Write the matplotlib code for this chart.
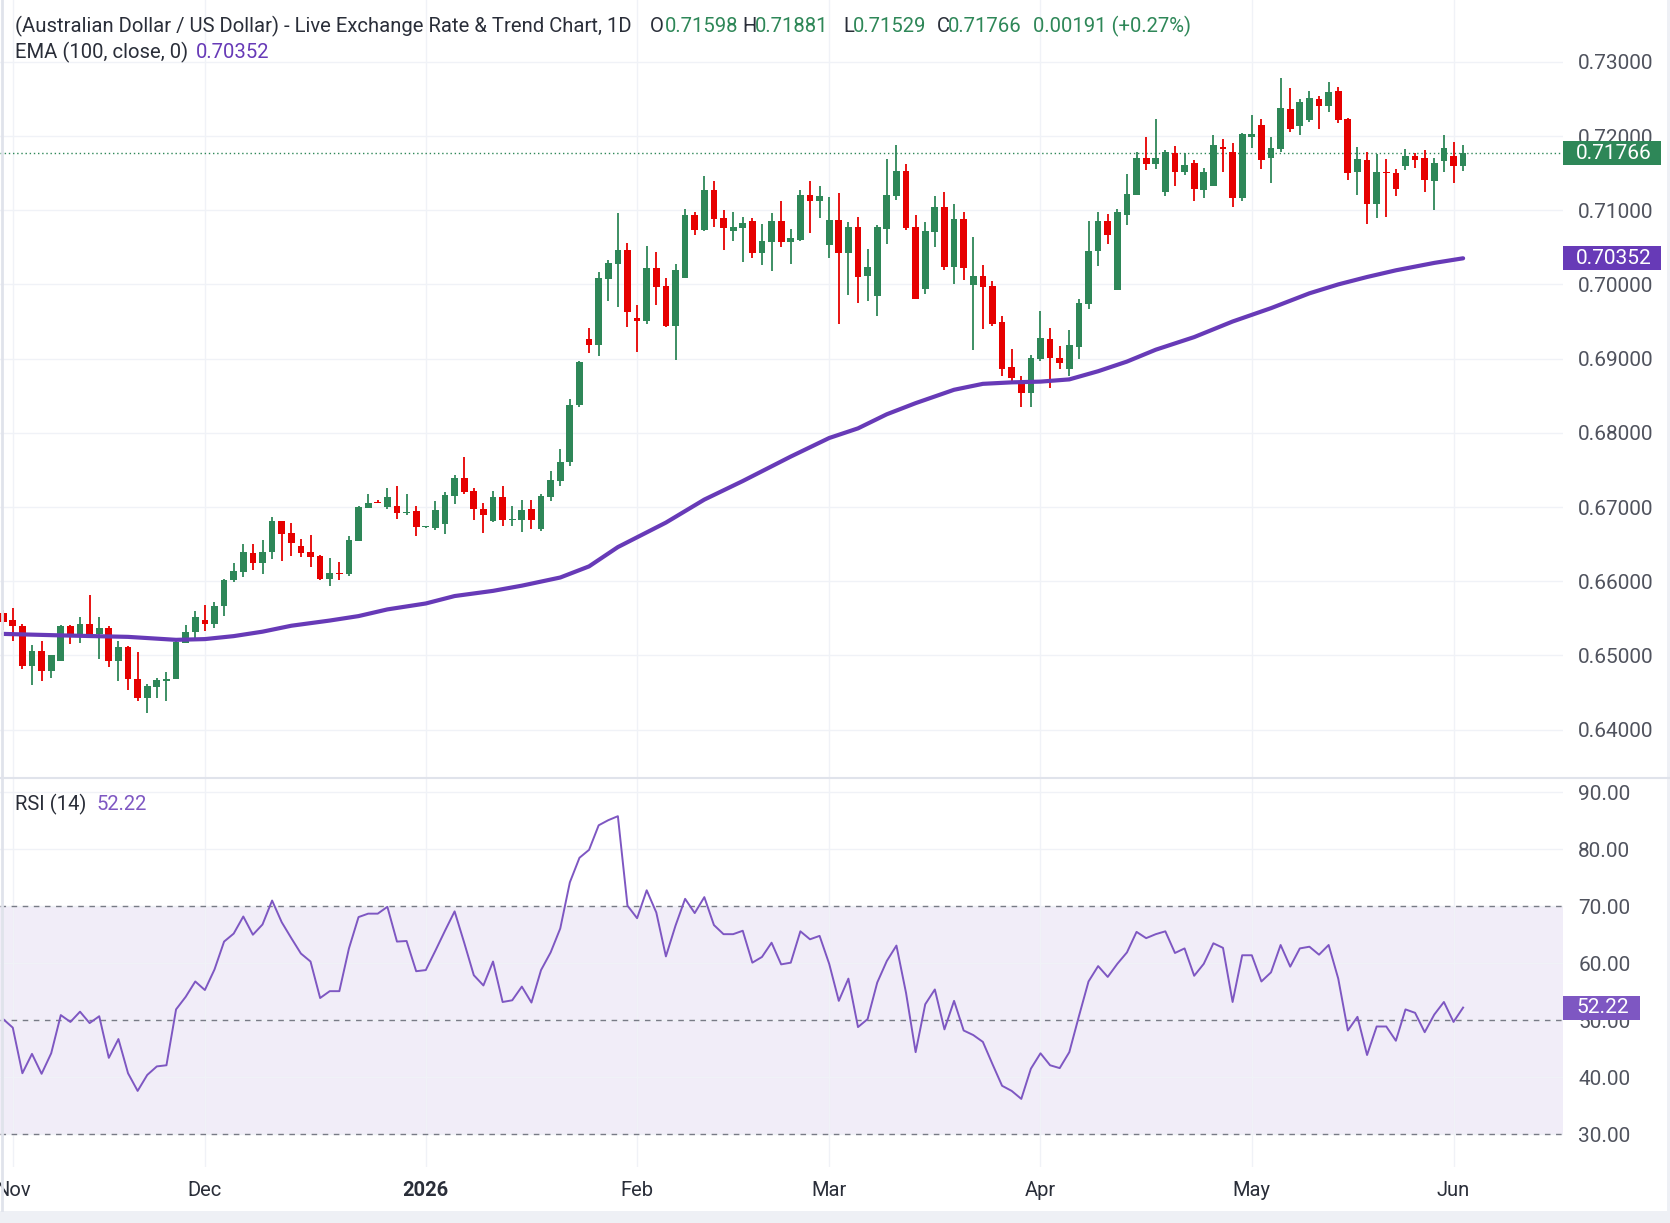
import numpy as np
import pandas as pd
import matplotlib
matplotlib.use('Agg')
import matplotlib.pyplot as plt
from matplotlib.patches import Rectangle

plt.rcParams['font.family'] = ['Roboto', 'DejaVu Sans']

# daily bars, 31 Oct 2025 .. 2 Jun 2026 (weekdays)
dates = pd.bdate_range('2025-10-31', '2026-06-02')

opens = [
    0.65577, 0.65482, 0.6540, 0.6486, 0.6506, 0.6479, 0.6492, 0.6539, 0.6529, 0.6543,
    0.6529, 0.6537, 0.6492, 0.6512, 0.6468, 0.6443, 0.6458, 0.6465, 0.6468, 0.6517,
    0.6531, 0.6548, 0.6543, 0.6566, 0.6602, 0.6613, 0.6638, 0.6625, 0.6640, 0.6681,
    0.6665, 0.6647, 0.6639, 0.6634, 0.6603, 0.6611, 0.6610, 0.6654, 0.6699, 0.6706,
    0.6700, 0.6701, 0.6692, 0.6694, 0.6673, 0.6672, 0.6677, 0.6715, 0.6739, 0.6721,
    0.6698, 0.6681, 0.6714, 0.6682, 0.6683, 0.6698, 0.6671, 0.6714, 0.6735, 0.6761,
    0.6838, 0.6926, 0.6919, 0.7007, 0.7028, 0.7047, 0.6955, 0.6951, 0.7022, 0.6998,
    0.6944, 0.7008, 0.7094, 0.7073, 0.7127, 0.7089, 0.7072, 0.7076, 0.7085, 0.7042,
    0.7057, 0.7085, 0.7057, 0.7060, 0.7121, 0.7112, 0.7053, 0.7087, 0.7043, 0.7078,
    0.7012, 0.6985, 0.7075, 0.7119, 0.7153, 0.7078, 0.6994, 0.7071, 0.7105, 0.7024,
    0.7088, 0.6999, 0.7011, 0.6998, 0.6949, 0.6889, 0.6867, 0.6853, 0.6899, 0.6926,
    0.6901, 0.6886, 0.6916, 0.6973, 0.7045, 0.7085, 0.6992, 0.7094, 0.7120, 0.7171,
    0.7162, 0.7124, 0.7177, 0.7151, 0.7163, 0.7127, 0.7132, 0.7185, 0.7179, 0.7117,
    0.7199, 0.7215, 0.7170, 0.7183, 0.7236, 0.7214, 0.7222, 0.7250, 0.7241, 0.7261,
    0.7223, 0.7152, 0.7168, 0.7109, 0.7152, 0.7150, 0.7160, 0.7173, 0.7171, 0.7140,
    0.7166, 0.7173, 0.71598]

highs = [
    0.65617, 0.65644, 0.6542, 0.6514, 0.6520, 0.6500, 0.6541, 0.6541, 0.6552, 0.6582,
    0.6552, 0.6539, 0.6520, 0.6513, 0.6504, 0.6462, 0.6470, 0.6477, 0.6522, 0.6541,
    0.6560, 0.6568, 0.6572, 0.6603, 0.6624, 0.6650, 0.6650, 0.6656, 0.6686, 0.6681,
    0.6678, 0.6657, 0.6662, 0.6636, 0.6631, 0.6626, 0.6661, 0.6701, 0.6718, 0.6710,
    0.6725, 0.6728, 0.6718, 0.6702, 0.6675, 0.6708, 0.6720, 0.6743, 0.6767, 0.6725,
    0.6705, 0.6722, 0.6728, 0.6702, 0.6710, 0.6710, 0.6717, 0.6748, 0.6778, 0.6845,
    0.6897, 0.6941, 0.7017, 0.7033, 0.7096, 0.7056, 0.6972, 0.7052, 0.7044, 0.7009,
    0.7027, 0.7101, 0.7097, 0.7146, 0.7140, 0.7100, 0.7098, 0.7091, 0.7089, 0.7082,
    0.7096, 0.7113, 0.7075, 0.7127, 0.7139, 0.7133, 0.7118, 0.7123, 0.7084, 0.7091,
    0.7048, 0.7080, 0.7169, 0.7188, 0.7162, 0.7093, 0.7084, 0.7119, 0.7124, 0.7109,
    0.7097, 0.7064, 0.7026, 0.7004, 0.6957, 0.6913, 0.6876, 0.6905, 0.6964, 0.6941,
    0.6917, 0.6938, 0.6980, 0.7086, 0.7097, 0.7095, 0.7102, 0.7149, 0.7179, 0.7199,
    0.7223, 0.7181, 0.7187, 0.7177, 0.7168, 0.7157, 0.7201, 0.7196, 0.7191, 0.7204,
    0.7228, 0.7223, 0.7199, 0.7278, 0.7265, 0.7250, 0.7261, 0.7254, 0.7273, 0.7266,
    0.7224, 0.7185, 0.7179, 0.7176, 0.7169, 0.7156, 0.7183, 0.7177, 0.7181, 0.7171,
    0.7201, 0.7192, 0.71881]

lows = [
    0.65347, 0.65189, 0.6482, 0.6460, 0.6465, 0.6469, 0.6492, 0.6516, 0.6517, 0.6526,
    0.6495, 0.6484, 0.6466, 0.6453, 0.6438, 0.6423, 0.6443, 0.6438, 0.6468, 0.6517,
    0.6521, 0.6533, 0.6537, 0.6553, 0.6599, 0.6606, 0.6615, 0.6610, 0.6630, 0.6627,
    0.6634, 0.6633, 0.6619, 0.6601, 0.6594, 0.6602, 0.6607, 0.6654, 0.6699, 0.6705,
    0.6698, 0.6684, 0.6689, 0.6661, 0.6672, 0.6669, 0.6664, 0.6704, 0.6718, 0.6683,
    0.6665, 0.6680, 0.6674, 0.6674, 0.6667, 0.6671, 0.6668, 0.6708, 0.6728, 0.6755,
    0.6835, 0.6908, 0.6903, 0.6978, 0.6970, 0.6942, 0.6909, 0.6946, 0.6972, 0.6942,
    0.6898, 0.7008, 0.7066, 0.7072, 0.7077, 0.7046, 0.7058, 0.7030, 0.7036, 0.7026,
    0.7018, 0.7050, 0.7028, 0.7059, 0.7069, 0.7089, 0.7035, 0.6946, 0.6986, 0.6975,
    0.6978, 0.6958, 0.7055, 0.7114, 0.7074, 0.6981, 0.6987, 0.7051, 0.7020, 0.7001,
    0.7006, 0.6912, 0.6940, 0.6944, 0.6877, 0.6866, 0.6835, 0.6835, 0.6897, 0.6861,
    0.6886, 0.6877, 0.6900, 0.6967, 0.7025, 0.7055, 0.6992, 0.7080, 0.7120, 0.7154,
    0.7156, 0.7119, 0.7132, 0.7148, 0.7113, 0.7116, 0.7132, 0.7152, 0.7104, 0.7112,
    0.7184, 0.7155, 0.7137, 0.7179, 0.7206, 0.7202, 0.7219, 0.7210, 0.7232, 0.7218,
    0.7141, 0.7120, 0.7081, 0.7089, 0.7091, 0.7119, 0.7154, 0.7157, 0.7125, 0.7100,
    0.7151, 0.7136, 0.71529]

closes = [
    0.65446, 0.65392, 0.6486, 0.6506, 0.6479, 0.6500, 0.6539, 0.6529, 0.6543, 0.6529,
    0.6537, 0.6492, 0.6512, 0.6468, 0.6443, 0.6459, 0.6467, 0.6468, 0.6518, 0.6531,
    0.6552, 0.6543, 0.6566, 0.6601, 0.6614, 0.6640, 0.6625, 0.6640, 0.6681, 0.6664,
    0.6652, 0.6638, 0.6633, 0.6603, 0.6611, 0.6610, 0.6655, 0.6700, 0.6706, 0.6705,
    0.6714, 0.6692, 0.6693, 0.6673, 0.6674, 0.6696, 0.6716, 0.6739, 0.6720, 0.6697,
    0.6689, 0.6714, 0.6683, 0.6684, 0.6696, 0.6683, 0.6715, 0.6736, 0.6761, 0.6838,
    0.6896, 0.6919, 0.7008, 0.7029, 0.7047, 0.6963, 0.6951, 0.7022, 0.6997, 0.6944,
    0.7020, 0.7094, 0.7074, 0.7127, 0.7088, 0.7076, 0.7077, 0.7083, 0.7043, 0.7058,
    0.7085, 0.7057, 0.7062, 0.7121, 0.7112, 0.7119, 0.7087, 0.7043, 0.7078, 0.7010,
    0.7023, 0.7077, 0.7120, 0.7153, 0.7076, 0.6981, 0.7072, 0.7105, 0.7024, 0.7088,
    0.7022, 0.7011, 0.6997, 0.6947, 0.6886, 0.6874, 0.6853, 0.6901, 0.6928, 0.6901,
    0.6894, 0.6918, 0.6975, 0.7045, 0.7085, 0.7066, 0.7097, 0.7122, 0.7171, 0.7162,
    0.7171, 0.7179, 0.7152, 0.7161, 0.7129, 0.7152, 0.7188, 0.7182, 0.7117, 0.7203,
    0.7203, 0.7167, 0.7184, 0.7238, 0.7209, 0.7246, 0.7251, 0.7241, 0.7259, 0.7221,
    0.7150, 0.7169, 0.7108, 0.7152, 0.7150, 0.7128, 0.7173, 0.7168, 0.7141, 0.7164,
    0.7184, 0.7160, 0.71766]

# EMA(100) at some bar positions (bar 0 = 3 Nov)
ema_pos = [-1, 5, 12, 17, 20, 23, 26, 29, 33, 36, 39, 43, 46, 50, 53, 57, 60, 63, 68,
           72, 76, 81, 85, 88, 91, 94, 98, 101, 104, 107, 110, 113, 116, 119, 123,
           127, 131, 135, 138, 141, 144, 148, 151]
ema_val = [0.6529, 0.6527, 0.6525, 0.6521, 0.6522, 0.6526, 0.6532, 0.6540, 0.6547,
           0.6553, 0.6562, 0.6570, 0.6580, 0.6587, 0.6594, 0.6605, 0.6620, 0.6646,
           0.6679, 0.6710, 0.6735, 0.6768, 0.6793, 0.6806, 0.6825, 0.6840, 0.6858,
           0.6866, 0.6868, 0.6869, 0.6872, 0.6883, 0.6896, 0.6912, 0.6929, 0.6950,
           0.6968, 0.6988, 0.7000, 0.7010, 0.7019, 0.7029, 0.70352]

rsi = [
    50.2, 48.7, 40.7, 44.1, 40.6, 44.2, 50.9, 49.7, 51.5, 49.5,
    50.7, 43.4, 46.7, 40.7, 37.6, 40.4, 41.9, 42.1, 51.9, 54.1,
    56.8, 55.3, 58.9, 63.8, 65.2, 68.2, 65.0, 66.8, 71.0, 67.2,
    64.4, 61.7, 60.3, 53.9, 55.1, 55.1, 62.6, 68.1, 68.7, 68.7,
    69.9, 63.8, 63.9, 58.6, 58.8, 62.2, 65.7, 69.1, 63.6, 57.9,
    56.1, 60.3, 53.2, 53.5, 55.9, 53.1, 58.8, 61.9, 66.1, 74.2,
    78.5, 79.9, 84.2, 85.1, 85.8, 70.1, 67.9, 72.8, 68.9, 61.2,
    66.6, 71.3, 68.8, 71.6, 66.7, 65.1, 65.1, 65.7, 60.1, 61.1,
    63.6, 59.8, 60.1, 65.6, 64.2, 64.8, 59.9, 53.4, 57.3, 48.8,
    50.2, 56.6, 60.4, 63.1, 54.8, 44.4, 52.8, 55.4, 48.4, 53.4,
    48.2, 47.4, 46.2, 42.3, 38.5, 37.6, 36.2, 41.5, 44.2, 42.1,
    41.6, 44.4, 50.7, 56.8, 59.5, 57.6, 59.9, 61.9, 65.5, 64.4,
    65.1, 65.6, 61.8, 62.6, 57.8, 59.9, 63.5, 62.7, 53.2, 61.4,
    61.4, 56.8, 58.4, 63.2, 59.4, 62.6, 62.9, 61.5, 63.2, 57.3,
    48.2, 50.6, 43.9, 48.9, 48.9, 46.4, 51.9, 51.3, 47.9, 51.0,
    53.2, 49.7, 52.22]

price_ticks = [0.64, 0.65, 0.66, 0.67, 0.68, 0.69, 0.70, 0.71, 0.72, 0.73]
rsi_ticks = [30, 40, 50, 60, 70, 80, 90]

GREEN = '#2e8758'
RED = '#e60000'
EMA_C = '#673ab7'
RSI_C = '#7e57c2'
GRID = '#f0f2f7'
TXT = '#2a2e39'
AX_TXT = '#50535e'

W, H = 1670, 1223
fig = plt.figure(figsize=(W / 100, H / 100), dpi=100)
fig.patch.set_facecolor('white')

def box(x0, y0, x1, y1):
    # pixel box (top-left origin) -> figure fraction rect
    return [x0 / W, 1 - y1 / H, (x1 - x0) / W, (y1 - y0) / H]

ax = fig.add_axes(box(0, 0, 1563, 778))
ax2 = fig.add_axes(box(0, 778, 1563, 1167), sharex=ax)

x = np.arange(len(dates)) - 1
o = np.array(opens); h = np.array(highs); l = np.array(lows); c = np.array(closes)
up = c >= o
cols = np.where(up, GREEN, RED)

# candles
ax.vlines(x, l, h, colors=cols, linewidth=1.3, zorder=3)
body_low = np.minimum(o, c)
body_h = np.maximum(np.abs(c - o), 0.00012)
ax.bar(x, body_h, bottom=body_low, width=0.7, color=cols, linewidth=0, zorder=4)

# EMA
ax.plot(ema_pos, ema_val, color=EMA_C, linewidth=3, solid_capstyle='round',
        solid_joinstyle='round', zorder=5)

# last price line
ax.axhline(closes[-1], color=GREEN, linewidth=1, linestyle=(0, (1, 2)), zorder=2)

# month ticks
month_pos = []
month_lab = []
for k in range(len(dates)):
    if k == 0 or dates[k].month != dates[k - 1].month:
        if dates[k].month == 10:
            continue
        month_pos.append(x[k])
        month_lab.append('2026' if dates[k].month == 1 else dates[k].strftime('%b'))

ax.set_xlim(-1.33, 161.4)
ax.set_ylim(0.63348, 0.73833)
ax.set_yticks(price_ticks)
ax.set_yticklabels([f'{v:.5f}' for v in price_ticks])
ax.yaxis.tick_right()
ax.tick_params(axis='y', length=0, pad=11, labelsize=15, labelcolor=AX_TXT)
ax.tick_params(axis='x', length=0, labelbottom=False)
ax.set_xticks(month_pos)
ax.grid(True, color=GRID, linewidth=1)
for s in ax.spines.values():
    s.set_visible(False)

# RSI pane
ax2.axhspan(30, 70, color=RSI_C, alpha=0.1, linewidth=0, zorder=1)
for lev in [70, 50, 30]:
    ax2.axhline(lev, color='#787b86', linewidth=1, linestyle=(0, (4, 4)), zorder=2)
ax2.plot(x, rsi, color=RSI_C, linewidth=1.4, zorder=4)
ax2.set_ylim(24.25, 92.5)
ax2.set_yticks(rsi_ticks)
ax2.set_yticklabels([f'{v:.2f}' for v in rsi_ticks])
ax2.yaxis.tick_right()
ax2.tick_params(axis='y', length=0, pad=11, labelsize=15, labelcolor=AX_TXT)
ax2.set_xticks(month_pos)
ax2.set_xticklabels(month_lab)
ax2.tick_params(axis='x', length=0, pad=10, labelsize=14.5, labelcolor=TXT)
for t in ax2.get_xticklabels():
    if t.get_text() == '2026':
        t.set_fontweight('bold')
ax2.grid(True, color=GRID, linewidth=1)
for s in ax2.spines.values():
    s.set_visible(False)

# pane separator, frame
fig.add_artist(plt.Line2D([0, 1], [1 - 778 / H, 1 - 778 / H], color='#e0e3eb', linewidth=1.5))
fig.add_artist(plt.Line2D([1.5 / W, 1.5 / W], [1 - 1210 / H, 1], color='#e0e3eb', linewidth=2))
fig.add_artist(Rectangle((0, 0), 1, 12 / H, transform=fig.transFigure, color='#eef0f5', linewidth=0))
fig.add_artist(Rectangle((1667 / W, 0), 3 / W, 1, transform=fig.transFigure, color='#eef0f5', linewidth=0))

# header texts
def ftext(px, py, s, color, size=14.6, **kw):
    fig.text(px / W, 1 - py / H, s, color=color, ha='left', va='center', fontsize=size, **kw)

ftext(15, 26, '(Australian Dollar / US Dollar) - Live Exchange Rate & Trend Chart, 1D', TXT)
ftext(650, 26, 'O', TXT)
ftext(665, 26, '0.71598', GREEN)
ftext(742, 26, 'H', TXT)
ftext(755, 26, '0.71881', GREEN)
ftext(843, 26, 'L', TXT)
ftext(853, 26, '0.71529', GREEN)
ftext(937, 26, 'C', TXT)
ftext(948, 26, '0.71766', GREEN)
ftext(1033, 26, '0.00191 (+0.27%)', GREEN)
ftext(15, 52, 'EMA (100, close, 0)', TXT)
ftext(196, 52, '0.70352', EMA_C)
ftext(15, 804, 'RSI (14)', TXT)
ftext(96, 804, '52.22', RSI_C)

# value tags on the right scale
def tag(axis, value, label, color, x1):
    yd = axis.transData.transform((0, value))[1]
    hh = 24
    fig.add_artist(Rectangle((1563 / W, (yd - hh / 2) / H), (x1 - 1563) / W, hh / H,
                             transform=fig.transFigure, color=color, linewidth=0, zorder=10))
    fig.text(1576 / W, yd / H, label, color='white', ha='left', va='center',
             fontsize=15, zorder=11)

tag(ax, closes[-1], '0.71766', GREEN, 1661)
tag(ax, ema_val[-1], '0.70352', EMA_C, 1661)
tag(ax2, rsi[-1], '52.22', RSI_C, 1640)

fig.savefig('out.png', dpi=100, facecolor='white')
